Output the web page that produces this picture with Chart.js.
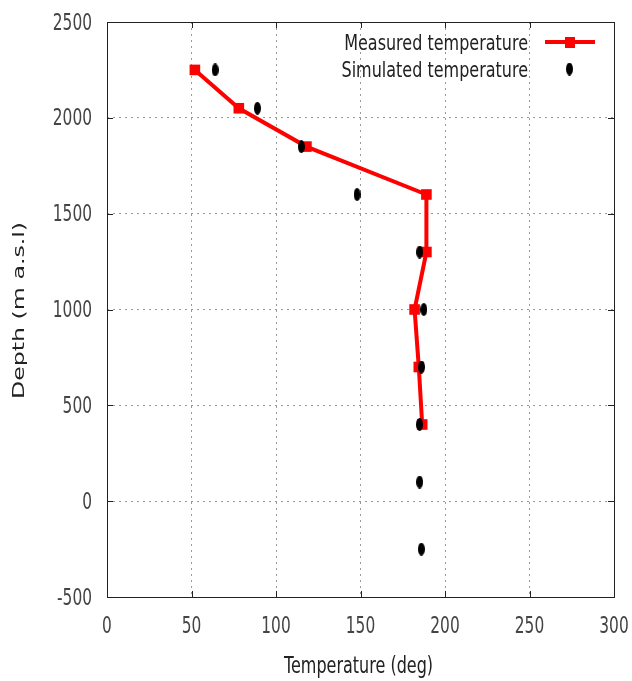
<!DOCTYPE html>
<html><head><meta charset="utf-8">
<script src="https://cdn.jsdelivr.net/npm/chart.js@4"></script>
<style>html,body{margin:0;padding:0;background:#fff}#wrap{width:632px;height:681px}</style>
</head><body><div id="wrap"><canvas id="c" width="632" height="681"></canvas></div>
<script>
const measuredTemp = [52, 78, 118, 189, 189, 182, 184.5, 186.5];
const measuredDepth = [2250, 2050, 1850, 1600, 1300, 1000, 700, 400];
const simulatedTemp = [64, 89, 115, 148, 185, 187.5, 186, 185, 185, 186];
const simulatedDepth = [2250, 2050, 1850, 1600, 1300, 1000, 700, 400, 100, -250];
const seriesNames = ["Measured temperature", "Simulated temperature"];
const xTitle = "Temperature (deg)";
const yTitle = "Depth (m a.s.l)";

const FONT = "'DejaVu Sans', sans-serif";
const VS = 1.48; // vertical stretch of all text in the reference

function ellipseMarker(w, h) {
  const cv = document.createElement('canvas');
  cv.width = w; cv.height = h;
  const g = cv.getContext('2d');
  g.fillStyle = '#000';
  g.beginPath();
  g.ellipse(w/2, h/2, w/2, h/2, 0, 0, Math.PI*2);
  g.fill();
  return cv;
}
const blackMark = ellipseMarker(7, 13);

function stretchedText(ctx, txt, x, y, align, sx, sy, font, color) {
  ctx.save();
  ctx.translate(x, y);
  ctx.scale(sx, sy);
  ctx.font = font;
  ctx.fillStyle = color;
  ctx.textAlign = align;
  ctx.textBaseline = 'alphabetic';
  ctx.fillText(txt, 0, 0);
  ctx.restore();
}

const decor = {
  id: 'decor',
  afterDatasetsDraw(chart) {
    const {ctx, chartArea: a, scales: {x, y}} = chart;
    ctx.save();
    ctx.strokeStyle = '#222';
    ctx.lineWidth = 1;
    const L = 6;
    x.ticks.forEach(t => {
      const px = Math.round(x.getPixelForValue(t.value)) + 0.5;
      ctx.beginPath();
      ctx.moveTo(px, a.bottom); ctx.lineTo(px, a.bottom - L);
      ctx.moveTo(px, a.top); ctx.lineTo(px, a.top + L);
      ctx.stroke();
    });
    y.ticks.forEach(t => {
      const py = Math.round(y.getPixelForValue(t.value)) + 0.5;
      ctx.beginPath();
      ctx.moveTo(a.left, py); ctx.lineTo(a.left + L, py);
      ctx.moveTo(a.right, py); ctx.lineTo(a.right - L, py);
      ctx.stroke();
    });
    ctx.strokeRect(Math.round(a.left)+0.5, Math.round(a.top)+0.5, Math.round(a.right-a.left), Math.round(a.bottom-a.top));
    ctx.restore();

    // tick labels
    const tickFont = "15.4px " + FONT;
    x.ticks.forEach(t => {
      stretchedText(ctx, String(t.value), x.getPixelForValue(t.value), a.bottom + 36, 'center', 1, VS, tickFont, '#444');
    });
    y.ticks.forEach(t => {
      stretchedText(ctx, String(t.value), a.left - 15, y.getPixelForValue(t.value) + 7.5, 'right', 1, VS, tickFont, '#444');
    });
    // axis titles
    stretchedText(ctx, xTitle, (a.left + a.right) / 2 - 2, 673, 'center', 1, VS, "16px " + FONT, '#222');
    ctx.save();
    ctx.translate(24, (a.top + a.bottom) / 2 + 1);
    ctx.rotate(-Math.PI / 2);
    ctx.scale(VS, 1);
    ctx.font = "16px " + FONT;
    ctx.fillStyle = '#222';
    ctx.textAlign = 'center';
    ctx.textBaseline = 'alphabetic';
    ctx.fillText(yTitle, 0, 0);
    ctx.restore();

    // legend
    const lf = "16px " + FONT;
    const tx = a.right - 86;
    const y1 = a.top + 20, y2 = a.top + 47;
    stretchedText(ctx, seriesNames[0], tx, y1 + 7.5, 'right', 1, 1.32, lf, '#222');
    stretchedText(ctx, seriesNames[1], tx, y2 + 7.5, 'right', 1, 1.32, lf, '#222');
    ctx.save();
    ctx.strokeStyle = '#ff0000';
    ctx.lineWidth = 4;
    ctx.beginPath();
    ctx.moveTo(a.right - 69, y1); ctx.lineTo(a.right - 19, y1);
    ctx.stroke();
    ctx.fillStyle = '#ff0000';
    ctx.fillRect(a.right - 49, y1 - 5, 10, 11);
    ctx.drawImage(blackMark, a.right - 48, y2 - 6.5);
    ctx.restore();
  }
};

new Chart(document.getElementById('c'), {
  type: 'scatter',
  data: {
    datasets: [
      {
        label: seriesNames[0],
        data: measuredTemp.map((t, i) => ({x: t, y: measuredDepth[i]})),
        showLine: true,
        borderColor: '#ff0000',
        backgroundColor: '#ff0000',
        borderWidth: 4,
        pointStyle: 'rect',
        pointRadius: 7.5,
        pointBorderWidth: 0,
        order: 1
      },
      {
        label: seriesNames[1],
        data: simulatedTemp.map((t, i) => ({x: t, y: simulatedDepth[i]})),
        showLine: false,
        pointStyle: blackMark,
        order: 0
      }
    ]
  },
  options: {
    responsive: false,
    animation: false,
    layout: {padding: {top: 22, right: 18, left: 0, bottom: 0}},
    plugins: {legend: {display: false}, tooltip: {enabled: false}},
    scales: {
      x: {
        type: 'linear', min: 0, max: 300,
        ticks: {stepSize: 50, display: false},
        grid: {color: '#999', lineWidth: 1, drawTicks: false},
        border: {display: false, dash: [2, 4]},
        title: {display: false, text: xTitle},
        afterFit(s) { s.height = 84; s.paddingLeft = 0; s.paddingRight = 0; }
      },
      y: {
        type: 'linear', min: -500, max: 2500,
        ticks: {stepSize: 500, display: false},
        grid: {color: '#999', lineWidth: 1, drawTicks: false},
        border: {display: false, dash: [2, 4]},
        title: {display: false, text: yTitle},
        afterFit(s) { s.width = 107; s.paddingTop = 0; s.paddingBottom = 0; }
      }
    }
  },
  plugins: [decor]
});
</script></body></html>
